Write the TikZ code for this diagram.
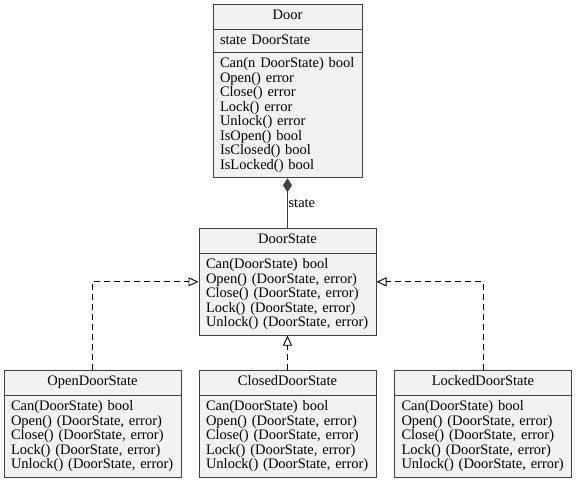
\documentclass[tikz,border=0pt]{standalone}
\usepackage{fontspec}
\setmainfont{Liberation Serif}
\usetikzlibrary{arrows.meta,shapes.multipart}
\definecolor{boxfill}{HTML}{F2F2F2}
\definecolor{boxline}{HTML}{404040}
\newcommand{\classtitle}[1]{\hfill\strut#1\hfill\null}
\newcommand{\statemethods}{Can(DoorState) bool\\Open() (DoorState, error)\\Close() (DoorState, error)\\Lock() (DoorState, error)\\Unlock() (DoorState, error)}
\tikzstyle{umlclass}=[rectangle split,rectangle split parts=2,draw=boxline,fill=boxfill,line width=1pt,inner xsep=7pt,inner ysep=4.75pt,align=left,anchor=north]
\tikzstyle{doorclass}=[umlclass,rectangle split parts=3,text width=135pt]
\tikzstyle{stateclass}=[umlclass,text width=163pt]
\tikzstyle{compose}=[draw=boxline,line width=1.2pt,{Diamond[length=14pt,width=9pt]}-]
\tikzstyle{realize}=[draw=black,line width=0.9pt,dash pattern=on 6pt off 4pt,-{Triangle[open,length=10pt,width=9pt]}]
\begin{document}
\begin{tikzpicture}[x=1pt,y=-1pt,font=\fontsize{14.5}{14.5}\selectfont]
        \useasboundingbox (0,0) rectangle (576,480);

        \node at (287.5,4)   [doorclass]  (door)   {\classtitle{Door}\nodepart{two}\rule[-3pt]{0pt}{10pt}state DoorState\nodepart{three}Can(n DoorState) bool\\Open() error\\Close() error\\Lock() error\\Unlock() error\\IsOpen() bool\\IsClosed() bool\\IsLocked() bool};
        \node at (287.5,228) [stateclass] (ds)     {\classtitle{DoorState}\nodepart{two}\statemethods};
        \node at (92.5,370)  [stateclass] (open)   {\classtitle{OpenDoorState}\nodepart{two}\statemethods};
        \node at (287.5,370) [stateclass] (closed) {\classtitle{ClosedDoorState}\nodepart{two}\statemethods};
        \node at (483,370)   [stateclass] (locked) {\classtitle{LockedDoorState}\nodepart{two}\statemethods};

        \draw [compose] (door.south) -- node [right,inner sep=0.5pt] {state} (ds.north);
        \draw [realize] (open.north) |- (ds.west);
        \draw [realize] (closed.north) -- (ds.south);
        \draw [realize] (locked.north) |- (ds.east);
      \end{tikzpicture}
\end{document}
